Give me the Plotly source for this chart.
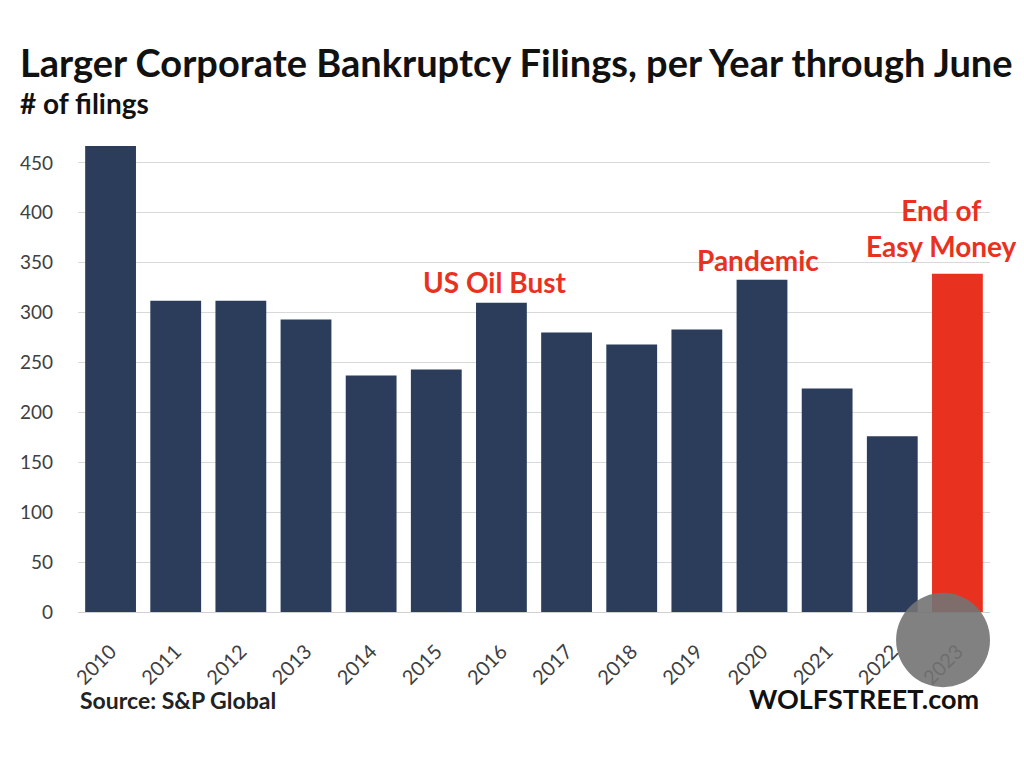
import plotly.graph_objects as go

years = ["2010", "2011", "2012", "2013", "2014", "2015", "2016",
         "2017", "2018", "2019", "2020", "2021", "2022", "2023"]
filings = [467, 312, 312, 293, 237, 243, 310, 280, 268, 283, 333, 224, 176, 339]
bar_colors = ["#2b3d5b"] * 13 + ["#e8321f"]
y_ticks = [0, 50, 100, 150, 200, 250, 300, 350, 400, 450]

notes = [
    ("2016", 331, "US Oil Bust", -6),
    ("2020", 353, "Pandemic", -4),
    ("2023", 385, "End of<br>Easy Money", -16),
]

FONT = "Lato"

fig = go.Figure()
fig.add_trace(go.Bar(x=years, y=filings, marker=dict(color=bar_colors, line=dict(width=0)),
                     hoverinfo="x+y"))

for x, y, t, dx in notes:
    fig.add_annotation(x=years.index(x), y=y, text=t, showarrow=False, xshift=dx,
                       font=dict(family=FONT, size=28, color="#e8321f", weight="bold"),
                       align="center", yanchor="middle")

fig.add_annotation(xref="paper", yref="paper", x=-0.0656, y=1.148, xanchor="left", yanchor="middle",
                   text="Larger Corporate Bankruptcy Filings, per Year through June", showarrow=False,
                   font=dict(family=FONT, size=38, color="#111111", weight="bold"))
fig.add_annotation(xref="paper", yref="paper", x=-0.0656, y=1.063, xanchor="left", yanchor="middle",
                   text="# of filings", showarrow=False,
                   font=dict(family=FONT, size=28, color="#111111", weight="bold"))

fig.add_annotation(xref="paper", yref="paper", x=0.0, y=-0.184, text="Source: S&P Global",
                   showarrow=False, xanchor="left", yanchor="middle",
                   font=dict(family=FONT, size=23, color="#222222", weight="bold"))
fig.add_annotation(xref="paper", yref="paper", x=0.9896, y=-0.18, text="WOLFSTREET.com",
                   showarrow=False, xanchor="right", yanchor="middle",
                   font=dict(family=FONT, size=27, color="#111111", weight="bold"))

# overlay circle (screenshot artifact)
fig.add_shape(type="circle", xref="paper", yref="paper",
              x0=0.897, x1=1.0, y0=-0.157, y1=0.04,
              fillcolor="rgba(115,115,115,0.9)", line=dict(width=0), layer="above")

fig.update_layout(
    width=1024, height=762,
    paper_bgcolor="white", plot_bgcolor="white",
    margin=dict(l=68, r=42, t=125, b=158),
    showlegend=False,
    bargap=0.22,
)
fig.update_xaxes(type="category", range=[-0.5, 13.5], tickangle=-45,
                 tickfont=dict(family=FONT, size=20, color="#404040"),
                 ticklabelstandoff=19,
                 showline=True, linecolor="#d0d0d0", linewidth=1, ticks="", showgrid=False)
fig.update_yaxes(range=[0, 480], tickvals=y_ticks, showgrid=True, gridcolor="#d9d9d9",
                 tickfont=dict(family=FONT, size=19, color="#404040"), zeroline=False,
                 ticklabelstandoff=24)

fig.write_html("out.html")
